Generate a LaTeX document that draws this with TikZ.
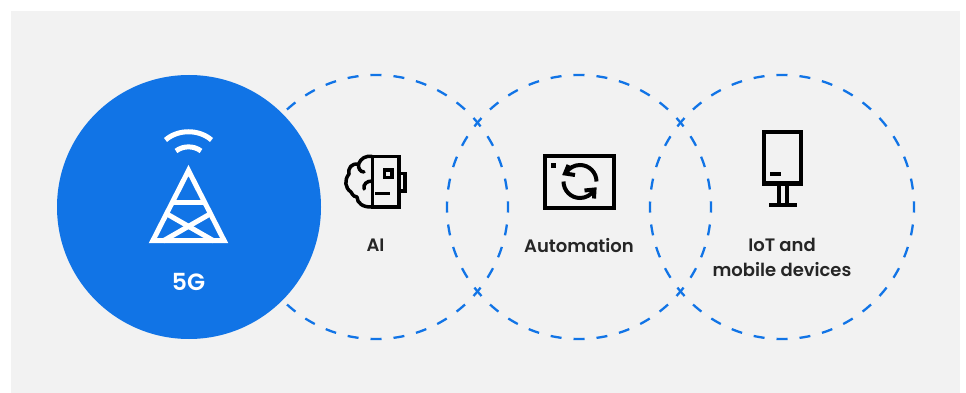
\documentclass[tikz,border=0pt]{standalone}
\usepackage{fontspec}
\setmainfont{Poppins}[UprightFont=*-SemiBold,BoldFont=*-Bold]
\usetikzlibrary{arrows.meta}
\definecolor{bluec}{HTML}{1174E6}
\definecolor{grayc}{HTML}{F2F2F2}
\tikzset{
  dashring/.style={draw=bluec,line width=2.3pt,dash pattern=on 11pt off 12.04pt,dash phase=5.5pt},
  lab/.style={font=\fontsize{18}{22}\selectfont,text=black!85,inner sep=0pt,align=center},
  icon/.style={draw=black,line width=4pt,fill=none,miter limit=10},
  wicon/.style={draw=white,line width=5pt,fill=none}
}
\begin{document}
\begin{tikzpicture}[x=1pt,y=-1pt]
\useasboundingbox (0,0) rectangle (966,393);
\fill[white] (0,0) rectangle (966,393);
\fill[grayc] (11,11) rectangle (960,393);
% rings
\draw[dashring] (376,207) circle[radius=132];
\draw[dashring] (579,207) circle[radius=132];
\draw[dashring] (782,207) circle[radius=132];
\fill[bluec] (189,207) circle[radius=132];
% tower
\draw[wicon,line join=miter] (152.8,240.7) -- (188.5,170.5) -- (224.2,240.7) -- cycle;
\draw[wicon] (172,202) -- (205,202);
\draw[wicon] (167,214) -- (214,241);
\draw[wicon] (210,214) -- (163,241);
\draw[wicon] (165.5,140) .. controls (178,129) and (199,129) .. (211.5,140);
\draw[wicon] (176,151) .. controls (183,145.5) and (194,145.5) .. (201,151);
% AI icon
\draw[icon,line width=3.8pt] (372.5,156.5) -- (398.7,156.5) -- (398.7,207) -- (372.5,207) -- cycle;
\draw[icon,line width=3.8pt] (400,173.5) -- (405,173.5) -- (405,191) -- (400,191);
\draw[icon,line width=3.6pt] (384.5,169.7) rectangle (391.7,177.3);
\draw[icon,line width=3.5pt] (375,193.5) -- (389.5,193.5);
\draw[icon,line width=3.5pt,line join=round,line cap=round]
  (372,156.5) .. controls (366,155.5) and (361,158) .. (358.5,164)
  .. controls (352,163) and (347.5,168) .. (349,174)
  .. controls (344,180) and (345,188) .. (351,192)
  .. controls (353,196) and (355,197) .. (357,197)
  .. controls (357,203) and (363,207.5) .. (372,207);
\draw[icon,line width=3.5pt,line cap=round] (358.5,164) .. controls (358,168) and (360,172) .. (364,172);
\draw[icon,line width=3.5pt,line cap=round] (372,181) .. controls (367,181) and (363,184) .. (364,189);
% automation icon
\draw[icon] (544.5,156) rectangle (614.2,207.5);
\fill[black] (551,163.3) rectangle (556,167.7);
\draw[icon,line width=4pt] (596.5,181.5) arc[start angle=0,end angle=-148,radius=16.5];
\draw[icon,line width=4pt] (563.5,181.5) arc[start angle=180,end angle=32,radius=16.5];
\draw[icon,line width=4pt,line join=miter] (568.5,165) -- (565,173.5) -- (575,175);
\draw[icon,line width=4pt,line join=miter] (594,198.5) -- (594.5,189.5) -- (584.5,190.5);
% IoT icon
\draw[icon,line width=4.2pt] (764.3,132) rectangle (801.3,183.5);
\draw[icon,line width=4.2pt] (770,174.3) -- (780.5,174.3);
\draw[icon,line width=4.2pt] (779.3,185) -- (779.3,205);
\draw[icon,line width=4.2pt] (787.3,185) -- (787.3,205);
\draw[icon,line width=4.2pt] (769.3,205) -- (796.7,205);
% labels
\node[lab] (ai) at (375.5,245.5) {AI};
\node[lab] (auto) at (579,246) {Automation};
\node[lab] (iot) at (782,257.5) {IoT and\\[3pt]mobile devices};
\node[lab,text=white,font=\fontsize{23.5}{26}\selectfont] (fg) at (188.5,282) {5G};
\end{tikzpicture}
\end{document}
